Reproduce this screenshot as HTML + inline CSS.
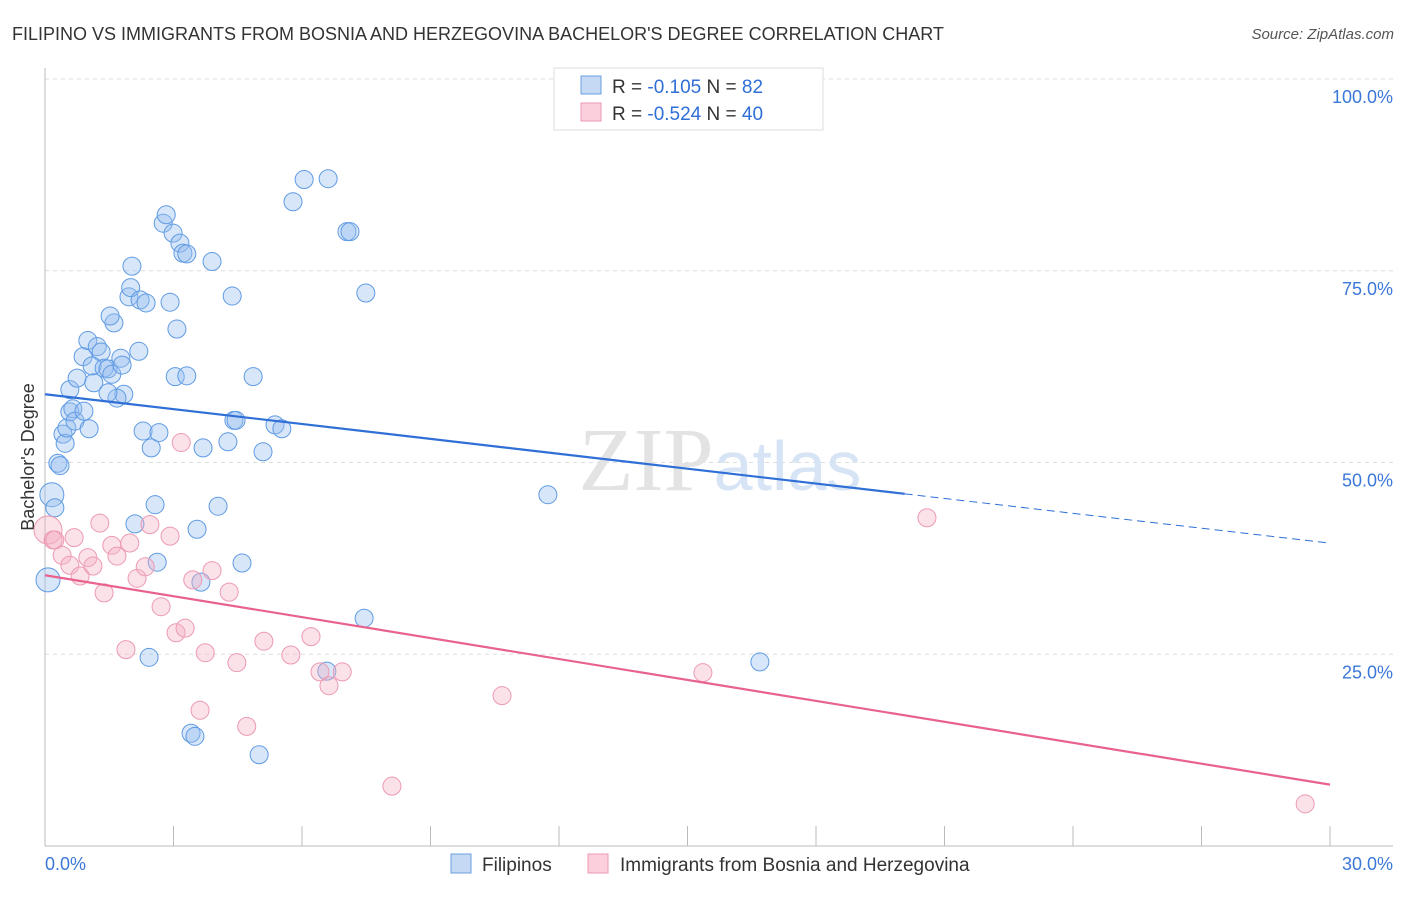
<!DOCTYPE html>
<html><head><meta charset="utf-8"><style>
body{margin:0;background:#fff;font-family:"Liberation Sans",sans-serif}
svg text{font-family:"Liberation Sans",sans-serif}
</style></head><body>
<svg id="chart" width="1406" height="892" xmlns="http://www.w3.org/2000/svg">
<text x="12" y="40" font-size="18" fill="#333">FILIPINO VS IMMIGRANTS FROM BOSNIA AND HERZEGOVINA BACHELOR'S DEGREE CORRELATION CHART</text>
<text x="1394" y="39" font-size="15" fill="#555" text-anchor="end" font-style="italic">Source: ZipAtlas.com</text>
<g id="grid"></g>
<text x="720" y="490" font-size="90" text-anchor="middle"><tspan fill="#e3e3e3" font-family="Liberation Serif">ZIP</tspan><tspan fill="#d6e4f5" font-size="70">atlas</tspan></text>
<line x1="45" y1="68" x2="45" y2="846" stroke="#bbb"/>
<line x1="45" y1="846" x2="1393" y2="846" stroke="#bbb"/>
<text transform="translate(34,457) rotate(-90)" font-size="18" fill="#333" text-anchor="middle">Bachelor's Degree</text>
<text x="45" y="870" font-size="18" fill="#3b78d8">0.0%</text>
<text x="1393" y="870" font-size="18" fill="#3b78d8" text-anchor="end">30.0%</text>
<g id="marks"></g>
<g>
<rect x="554" y="68" width="269" height="62" fill="#fff" stroke="#ddd"/>
<rect x="581" y="76" width="20" height="18" fill="#c5d9f4" stroke="#6a9fe0"/>
<rect x="581" y="103" width="20" height="18" fill="#fbd0dc" stroke="#ee9ab3"/>
<text x="612" y="93" font-size="19" fill="#333">R = <tspan fill="#2f6fd6">-0.105</tspan>   N = <tspan fill="#2f6fd6"> 82</tspan></text>
<text x="612" y="120" font-size="19" fill="#333">R = <tspan fill="#2f6fd6">-0.524</tspan>   N = <tspan fill="#2f6fd6">40</tspan></text>
</g>
<g>
<rect x="451" y="854" width="20" height="19" fill="#c5d9f4" stroke="#6a9fe0"/>
<text x="482" y="871" font-size="19" fill="#333">Filipinos</text>
<rect x="588" y="854" width="20" height="19" fill="#fbd0dc" stroke="#ee9ab3"/>
<text x="620" y="871" font-size="19" fill="#333">Immigrants from Bosnia and Herzegovina</text>
</g>
</svg>
<script>
const yTicks=[25,50,75,100];
const yTickLabels=["25.0%","50.0%","75.0%","100.0%"];
const xTicks=[0,3,6,9,12,15,18,21,24,27,30];
const blueX=[0.07,0.16,0.23,0.30,0.35,0.42,0.47,0.51,0.58,0.65,0.70,0.91,1.03,0.58,0.75,0.89,1.14,1.00,1.22,1.31,1.10,1.38,1.47,1.56,1.61,1.52,1.77,1.80,1.84,1.68,1.47,2.19,1.96,2.00,2.03,2.22,2.36,2.29,2.48,2.66,2.57,2.10,2.62,2.43,2.76,2.83,2.99,3.15,3.22,3.31,2.92,3.08,3.04,3.31,3.55,3.69,3.64,3.41,3.50,3.90,4.04,4.27,4.37,4.41,4.46,4.60,4.86,5.09,5.00,5.37,5.53,5.79,6.05,6.61,7.05,7.12,7.49,7.45,6.58,11.74,16.69];
const blueY=[34.7,45.8,44.1,49.9,49.6,53.7,52.5,54.5,56.6,57.0,55.4,56.7,54.4,59.5,61.0,63.8,60.4,65.9,65.1,64.4,62.6,62.3,62.2,61.5,68.2,69.1,63.6,62.7,58.9,58.4,59.1,64.5,71.6,72.8,75.6,71.2,70.8,54.1,51.9,53.9,44.5,42.0,37.0,24.6,81.2,82.3,79.9,78.6,77.3,77.2,70.9,67.4,61.2,61.3,41.3,51.9,34.4,14.7,14.3,76.2,44.3,52.7,71.7,55.5,55.5,36.9,61.2,51.4,11.9,54.9,54.4,84.0,86.9,87.0,80.1,80.1,72.1,29.7,22.8,45.8,24.0];
const pinkX=[0.07,0.19,0.23,0.40,0.68,0.58,0.82,1.00,1.12,1.28,1.38,1.56,1.68,1.98,2.15,2.34,2.45,1.89,2.71,2.92,3.06,3.18,3.27,3.45,3.62,3.74,3.90,4.30,4.48,4.71,5.11,5.74,6.21,6.42,6.63,6.94,8.10,10.67,15.36,20.59,29.42];
const pinkY=[41.2,39.9,39.9,37.9,40.2,36.6,35.2,37.6,36.5,42.1,33.0,39.2,37.8,39.5,34.9,36.4,41.9,25.6,31.2,40.4,27.8,52.6,28.4,34.7,17.7,25.2,35.9,33.1,23.9,15.6,26.7,24.9,27.3,22.7,20.9,22.7,7.8,19.6,22.6,42.8,5.5];
const blueTrend=[58.9,-0.647]; const blueSolidEnd=20.07;
const pinkTrend=[35.3,-0.91];
const xs=v=>45+v/30*1285, ys=v=>846-v*7.67;
const NS="http://www.w3.org/2000/svg";
const grid=document.getElementById('grid'), marks=document.getElementById('marks');
function mk(t,a,p){const e=document.createElementNS(NS,t);for(const k in a)e.setAttribute(k,a[k]);p.appendChild(e);return e;}
yTicks.forEach((t,i)=>{
 const l=mk('line',{x1:45,x2:1393,y1:ys(t),y2:ys(t),stroke:'#ddd','stroke-dasharray':'4,4'},grid);
 
 
 const tx=mk('text',{x:1393,y:ys(t)+24,'font-size':18,fill:'#3b78d8','text-anchor':'end'},grid);
 tx.textContent=yTickLabels[i];
 
 
});
mk('line',{x1:45,x2:1393,y1:ys(100),y2:ys(100),stroke:'#ddd','stroke-dasharray':'4,4'},grid);
xTicks.forEach(t=>{
 const l=mk('line',{x1:xs(t),x2:xs(t),y1:826,y2:846,stroke:'#bbb'},grid);
 
 
});
blueX.forEach((x,i)=>{
 const c=mk('circle',{cx:xs(x),cy:ys(blueY[i]),r:(i<2?12:9),fill:'rgba(150,190,240,0.38)',stroke:'#5f9be3','stroke-width':1},marks);
 
 
});
pinkX.forEach((x,i)=>{
 const c=mk('circle',{cx:xs(x),cy:ys(pinkY[i]),r:(i<1?14:9),fill:'rgba(245,175,195,0.38)',stroke:'#ec9ab3','stroke-width':1},marks);
 
 
});
const b1=mk('line',{x1:xs(0),y1:ys(blueTrend[0]),x2:xs(blueSolidEnd),y2:ys(blueTrend[0]+blueTrend[1]*blueSolidEnd),stroke:'#2f6fd6','stroke-width':2.2},marks);


const b2=mk('line',{x1:xs(blueSolidEnd),y1:ys(blueTrend[0]+blueTrend[1]*blueSolidEnd),x2:xs(30),y2:ys(blueTrend[0]+blueTrend[1]*30),stroke:'#2f6fd6','stroke-width':1,'stroke-dasharray':'8,5'},marks);


const p1=mk('line',{x1:xs(0),y1:ys(pinkTrend[0]),x2:xs(30),y2:ys(pinkTrend[0]+pinkTrend[1]*30),stroke:'#e8628e','stroke-width':2.2},marks);


</script>
</body></html>
